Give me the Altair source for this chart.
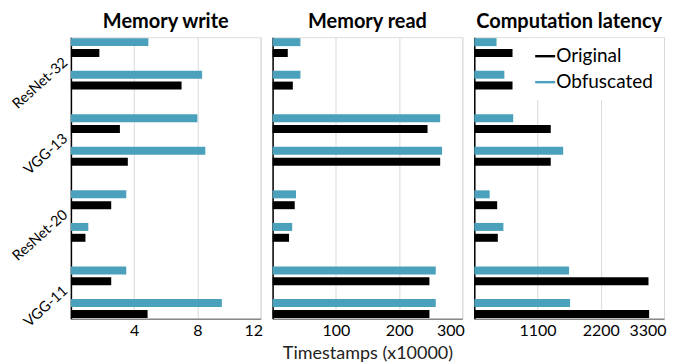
import altair as alt
import pandas as pd

models = ["ResNet-32", "VGG-13", "ResNet-20", "VGG-11"]
layers = ["1", "2"]
series = ["Original", "Obfuscated"]
colors = ["#000000", "#4BA0BB"]

write_orig = [1.8, 7.0, 3.1, 3.6, 2.55, 0.92, 2.55, 4.85]
write_obf = [4.9, 8.3, 8.0, 8.5, 3.5, 1.1, 3.5, 9.55]
read_orig = [24, 32, 245, 265, 35, 26, 248, 248]
read_obf = [44, 44, 265, 268, 37, 31, 258, 258]
lat_orig = [665, 665, 1330, 1330, 398, 409, 3030, 3041]
lat_obf = [387, 523, 677, 1546, 267, 506, 1649, 1666]

slot_domain = ["1-Obfuscated", "1-Original", "gap", "2-Obfuscated", "2-Original"]
FONT = "Lato"


def make_df(orig, obf):
    rows = []
    for mi, m in enumerate(models):
        for li, l in enumerate(layers):
            k = mi * 2 + li
            for s, vals in zip(series, [orig, obf]):
                rows.append({"model": m, "layer": l, "series": s,
                             "slot": f"{l}-{s}", "value": vals[k]})
    return pd.DataFrame(rows)


def panel(df, title, dmax, ticks, first, xtitle, legend):
    if first:
        yaxis = alt.Axis(title=None, labelAngle=-42, labelAlign="right",
                         labelBaseline="alphabetic", labelFontSize=14.5, labelOffset=0,
                         labelPadding=3, ticks=False, domain=True, domainColor="#000",
                         domainWidth=1.5, labelColor="#000", grid=False)
    else:
        yaxis = alt.Axis(title=None, labels=False, ticks=False, domain=True,
                         domainColor="#000", domainWidth=1.5, grid=False)
    xaxis_kwargs = dict(values=ticks, format="d", ticks=False, grid=True, gridColor="#d9d9d9",
                        labelFontSize=16, labelColor="#000", labelPadding=4,
                        labelFlush=True, labelFlushOffset=2,
                        domain=True, domainColor="#888", domainWidth=1.5)
    if xtitle:
        xaxis = alt.Axis(title=xtitle, titleFontSize=18, titleFontWeight="normal",
                         titleColor="#222", titlePadding=6, **xaxis_kwargs)
    else:
        xaxis = alt.Axis(title=None, **xaxis_kwargs)
    if legend:
        leg = alt.Legend(orient="none", legendX=53, legendY=1, title=None,
                         symbolType="M-1,-0.12H1V0.12H-1Z", symbolSize=400,
                         symbolStrokeWidth=0, labelFontSize=19, labelColor="#000",
                         labelOffset=1, fillColor="white", padding=8, rowPadding=6)
        color = alt.Color("series:N", scale=alt.Scale(domain=series, range=colors), legend=leg)
    else:
        color = alt.Color("series:N", scale=alt.Scale(domain=series, range=colors), legend=None)
    return alt.Chart(df).mark_bar().encode(
        x=alt.X("value:Q", scale=alt.Scale(domain=[0, dmax], nice=False), axis=xaxis),
        y=alt.Y("model:N", sort=models,
                scale=alt.Scale(paddingInner=0.324, paddingOuter=0.012), axis=yaxis),
        yOffset=alt.YOffset("slot:N", scale=alt.Scale(domain=slot_domain,
                                                      paddingInner=0.265, paddingOuter=0)),
        color=color,
    ).properties(width=190, height=282,
                 title=alt.TitleParams(title, fontSize=20, fontWeight="bold", font=FONT,
                                       color="#000", offset=5, anchor="middle"))


p1 = panel(make_df(write_orig, write_obf), "Memory write", 12, [4, 8, 12], True, None, False)
p2 = panel(make_df(read_orig, read_obf), "Memory read", 300, [100, 200, 300], False,
           "Timestamps (x10000)", False)
p3 = panel(make_df(lat_orig, lat_obf), "Computation latency", 3300, [1100, 2200, 3300],
           False, None, True)

chart = alt.hconcat(p1, p2, p3, spacing=12, bounds="flush").resolve_scale(
    color="independent", x="independent").resolve_legend(color="independent").configure_view(
    stroke="#222", strokeWidth=1.2).configure(font=FONT).properties(
    padding={"left": 0, "top": 3, "right": 0, "bottom": 0})

chart.save("out.html", embed_options={"renderer": "svg", "actions": False})
